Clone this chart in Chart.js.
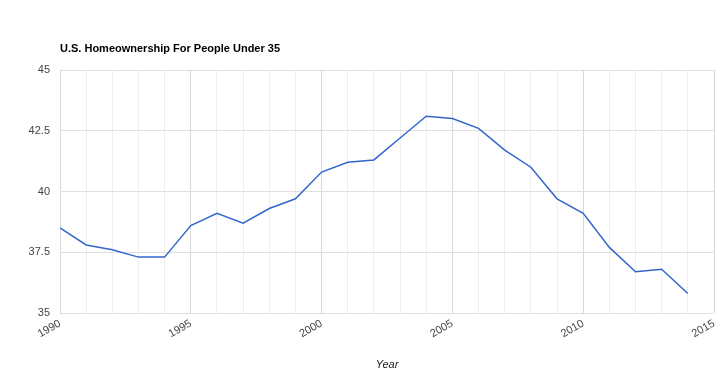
<!DOCTYPE html>
<html>
<head>
<meta charset="utf-8">
<script src="https://cdn.jsdelivr.net/npm/chart.js@4.4.0/dist/chart.umd.min.js"></script>
<style>
  html, body { margin: 0; padding: 0; background: #fff; }
  #wrap { width: 720px; height: 382px; }
</style>
</head>
<body>
<div id="wrap"><canvas id="chart_1" width="720" height="382"></canvas></div>
<script>
// data
const title_text = "U.S. Homeownership For People Under 35"
const years = [1990, 1991, 1992, 1993, 1994, 1995, 1996, 1997, 1998, 1999, 2000, 2001, 2002,
    2003, 2004, 2005, 2006, 2007, 2008, 2009, 2010, 2011, 2012, 2013, 2014]
const rates = [38.5, 37.8, 37.6, 37.3, 37.3, 38.6, 39.1, 38.7, 39.3, 39.7, 40.8, 41.2, 41.3,
    42.2, 43.1, 43.0, 42.6, 41.7, 41.0, 39.7, 39.1, 37.7, 36.7, 36.8, 35.8]
const x_labels = [1990, 1995, 2000, 2005, 2010, 2015]
const y_labels = [35, 37.5, 40, 42.5, 45]

const font_family = "'Liberation Sans', Arial, sans-serif"

// title sits on the left edge of the plot
const title_plugin = {
    id: "left_title",
    afterDraw(chart){
        const ctx = chart.ctx
        ctx.save()
        ctx.font = "bold 11px " + font_family
        ctx.fillStyle = "#000"
        ctx.textBaseline = "middle"
        ctx.textAlign = "left"
        ctx.fillText(title_text, chart.chartArea.left, 49)
        ctx.restore()
    }
}

const data_1 = {
    datasets: [
        {
            data: years.map((y, i) => ({x: y, y: rates[i]})),
            borderColor: "#3366cc",
            borderWidth: 1.5,
            pointRadius: 0,
            fill: false,
            tension: 0
        }
    ]
}

const config_1 = {
    type: "line",
    data: data_1,
    plugins: [title_plugin],
    options: {
        responsive: false,
        animation: false,
        layout: {
            padding: {top: 70, right: 0, left: 0, bottom: 0}
        },
        plugins: {
            legend: {display: false},
            tooltip: {enabled: false}
        },
        scales: {
            x: {
                type: "linear",
                min: 1990,
                max: 2015,
                afterFit(scale){
                    scale.height = 69
                    scale.paddingRight = 6
                },
                ticks: {
                    stepSize: 1,
                    autoSkip: false,
                    minRotation: 30,
                    maxRotation: 30,
                    padding: 4,
                    color: "#444",
                    font: {family: font_family, size: 11},
                    callback: (v) => x_labels.includes(v) ? String(v) : ""
                },
                grid: {
                    drawTicks: false,
                    color: (c) => x_labels.includes(c.tick.value) ? "#d9d9d9" : "#eeeeee"
                },
                border: {display: false},
                title: {
                    display: true,
                    text: "Year",
                    color: "#222",
                    font: {family: font_family, size: 11, style: "italic"},
                    padding: {top: 0, bottom: 10}
                }
            },
            y: {
                min: 35,
                max: 45,
                afterFit(scale){ scale.width = 60 },
                afterBuildTicks(scale){ scale.ticks = y_labels.map(v => ({value: v})) },
                ticks: {
                    padding: 10,
                    color: "#444",
                    font: {family: font_family, size: 11},
                    callback: (v) => String(v)
                },
                grid: {
                    drawTicks: false,
                    color: "#e0e0e0"
                },
                border: {display: false}
            }
        }
    }
}

const chart_1 = new Chart(document.getElementById("chart_1").getContext("2d"), config_1)
</script>
</body>
</html>
